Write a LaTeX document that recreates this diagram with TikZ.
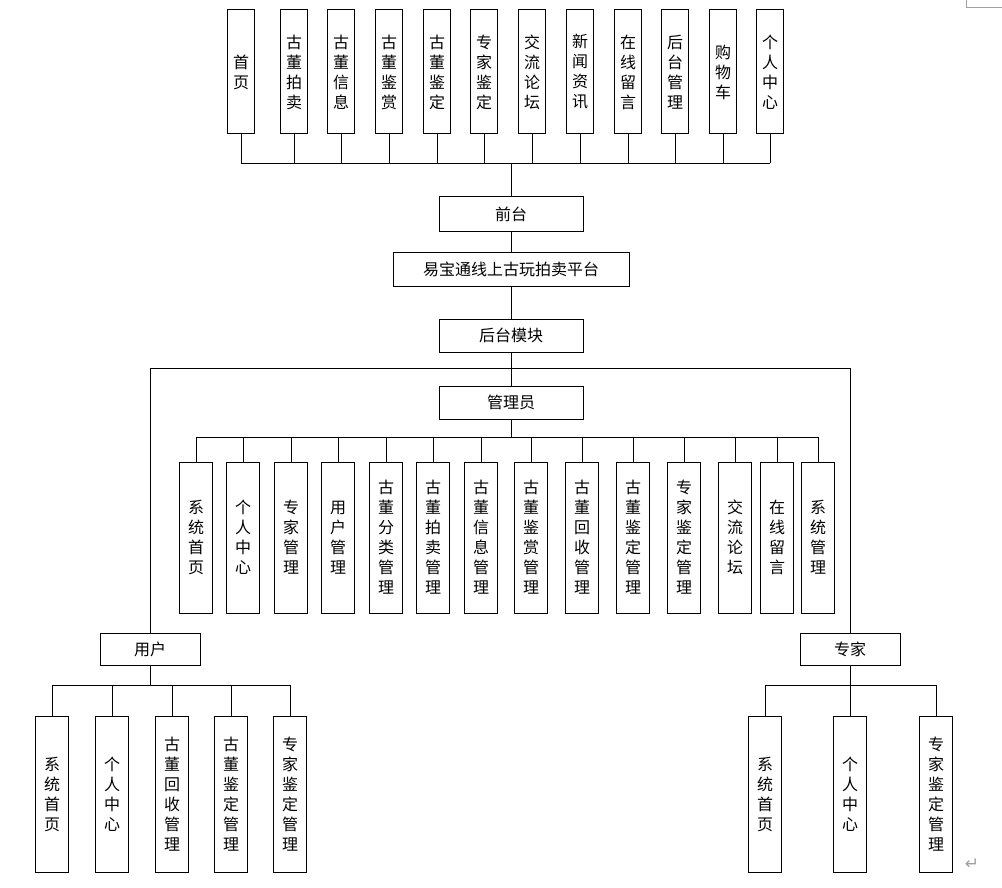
\documentclass[tikz,border=0pt]{standalone}
\usepackage{fontspec}
\setmainfont{Noto Sans CJK SC}
\newfontfamily\symfont{DejaVu Sans}
\definecolor{markgray}{HTML}{A0A0A0}
\begin{document}
\begin{tikzpicture}[x=1pt,y=-1pt,
  every node/.style={font=\fontsize{16}{20}\selectfont, inner sep=0pt},
  hbox/.style={draw=black, line width=1pt, minimum width=144pt, minimum height=34pt},
  tbox/.style={draw=black, line width=1pt, minimum width=27pt, minimum height=124pt, align=center},
  abox/.style={draw=black, line width=1pt, minimum width=33pt, minimum height=151pt, align=center},
  ubox/.style={draw=black, line width=1pt, minimum width=33pt, minimum height=156pt, align=center},
  sbox/.style={draw=black, line width=1pt, minimum width=100pt, minimum height=32pt},
  conn/.style={draw=black, line width=0.9pt}]
\useasboundingbox (0,0) rectangle (1002,888);

% top row
\node[tbox] (t1)  at (241,72) {首\\页};
\node[tbox] (t2)  at (294,72) {古\\董\\拍\\卖};
\node[tbox] (t3)  at (341,72) {古\\董\\信\\息};
\node[tbox] (t4)  at (389,72) {古\\董\\鉴\\赏};
\node[tbox] (t5)  at (437,72) {古\\董\\鉴\\定};
\node[tbox] (t6)  at (484,72) {专\\家\\鉴\\定};
\node[tbox] (t7)  at (532,72) {交\\流\\论\\坛};
\node[tbox] (t8)  at (580,72) {新\\闻\\资\\讯};
\node[tbox] (t9)  at (628,72) {在\\线\\留\\言};
\node[tbox] (t10) at (675,72) {后\\台\\管\\理};
\node[tbox] (t11) at (723,72) {购\\物\\车};
\node[tbox] (t12) at (770,72) {个\\人\\中\\心};

% center column
\node[hbox] (qian) at (511,214) {前台};
\node[hbox, minimum width=236pt] (plat) at (511,269) {易宝通线上古玩拍卖平台};
\node[hbox, minimum height=33pt] (hou) at (511,335.5) {后台模块};
\node[hbox, minimum height=33pt] (admin) at (511,402.5) {管理员};

\coordinate (busT) at (511,163);
\coordinate (split) at (511,368);
\coordinate (busA) at (511,437);

\foreach \i in {1,...,12} { \draw[conn] (t\i.south) -- (t\i.south |- busT); }
\draw[conn] (t1.south |- busT) -- (t12.south |- busT);
\draw[conn] (busT) -- (qian.north);
\draw[conn] (qian.south) -- (plat.north);
\draw[conn] (plat.south) -- (hou.north);
\draw[conn] (hou.south) -- (admin.north);

% admin row
\node[abox] (a1)  at (196,537.5) {系\\统\\首\\页};
\node[abox] (a2)  at (243,537.5) {个\\人\\中\\心};
\node[abox] (a3)  at (291,537.5) {专\\家\\管\\理};
\node[abox] (a4)  at (338,537.5) {用\\户\\管\\理};
\node[abox] (a5)  at (386,537.5) {古\\董\\分\\类\\管\\理};
\node[abox] (a6)  at (433,537.5) {古\\董\\拍\\卖\\管\\理};
\node[abox] (a7)  at (481,537.5) {古\\董\\信\\息\\管\\理};
\node[abox] (a8)  at (531,537.5) {古\\董\\鉴\\赏\\管\\理};
\node[abox] (a9)  at (582,537.5) {古\\董\\回\\收\\管\\理};
\node[abox] (a10) at (633,537.5) {古\\董\\鉴\\定\\管\\理};
\node[abox] (a11) at (684,537.5) {专\\家\\鉴\\定\\管\\理};
\node[abox] (a12) at (735,537.5) {交\\流\\论\\坛};
\node[abox] (a13) at (777,537.5) {在\\线\\留\\言};
\node[abox] (a14) at (818,537.5) {系\\统\\管\\理};

\draw[conn] (admin.south) -- (busA);
\draw[conn] (a1.north |- busA) -- (a14.north |- busA);
\foreach \i in {1,...,14} { \draw[conn] (a\i.north |- busA) -- (a\i.north); }

% user / expert
\node[sbox] (user) at (150,649) {用户};
\node[sbox] (expert) at (850,649) {专家};
\draw[conn] (user.north) -- (user.north |- split) -- (expert.north |- split) -- (expert.north);

\coordinate (busU) at (150,685);
\coordinate (busE) at (850,685);

\node[ubox] (u1) at (52,794) {系\\统\\首\\页};
\node[ubox] (u2) at (112,794) {个\\人\\中\\心};
\node[ubox] (u3) at (172,794) {古\\董\\回\\收\\管\\理};
\node[ubox] (u4) at (231,794) {古\\董\\鉴\\定\\管\\理};
\node[ubox] (u5) at (290,794) {专\\家\\鉴\\定\\管\\理};

\draw[conn] (user.south) -- (busU);
\draw[conn] (u1.north |- busU) -- (u5.north |- busU);
\foreach \i in {1,...,5} { \draw[conn] (u\i.north |- busU) -- (u\i.north); }

\node[ubox] (e1) at (765,794) {系\\统\\首\\页};
\node[ubox] (e2) at (850,794) {个\\人\\中\\心};
\node[ubox] (e3) at (936,794) {专\\家\\鉴\\定\\管\\理};

\draw[conn] (expert.south) -- (busE);
\draw[conn] (e1.north |- busE) -- (e3.north |- busE);
\foreach \i in {1,...,3} { \draw[conn] (e\i.north |- busE) -- (e\i.north); }

% page marks
\draw[markgray, line width=0.8pt] (966,0) -- (966,7) -- (1002,7);
\node[text=markgray, font=\symfont\fontsize{17}{17}\selectfont] (ret) at (972,864) {↵};
\end{tikzpicture}
\end{document}
